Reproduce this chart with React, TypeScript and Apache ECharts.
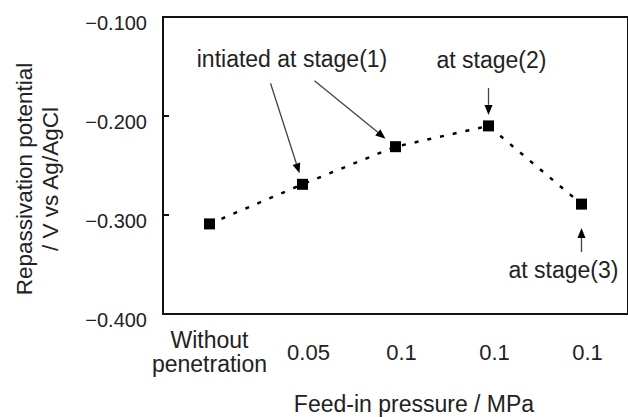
import React, { useEffect, useRef } from "react";
import * as echarts from "echarts";

const categories = ["Without\npenetration", "0.05", "0.1", "0.1", "0.1"];
const potentials = [-0.309, -0.269, -0.231, -0.21, -0.289];
const yMin = -0.4;
const yMax = -0.1;
const yInterval = 0.1;
const xAxisName = "Feed-in pressure / MPa";
const yAxisName = "Repassivation potential\n/ V vs Ag/AgCl";
const noteStage1 = "intiated at stage(1)";
const noteStage2 = "at stage(2)";
const noteStage3 = "at stage(3)";

const FONT = "'Liberation Sans', Arial, Helvetica, sans-serif";
const TEXT = "#222";

function arrow(x1: number, y1: number, x2: number, y2: number) {
  const dx = x2 - x1;
  const dy = y2 - y1;
  const len = Math.sqrt(dx * dx + dy * dy);
  const ux = dx / len;
  const uy = dy / len;
  const hl = 10;
  const hw = 4;
  const bx = x2 - ux * hl;
  const by = y2 - uy * hl;
  return [
    {
      type: "line",
      shape: { x1, y1, x2: bx, y2: by },
      style: { stroke: "#444", lineWidth: 1.3 },
      silent: true,
    },
    {
      type: "polygon",
      shape: {
        points: [
          [x2, y2],
          [bx - uy * hw, by + ux * hw],
          [bx + uy * hw, by - ux * hw],
        ],
      },
      style: { fill: "#000" },
      silent: true,
    },
  ];
}

export default function App() {
  const ref = useRef<HTMLDivElement>(null);
  useEffect(() => {
    const chart = echarts.init(ref.current!, null, { renderer: "svg" });
    chart.setOption({
      animation: false,
      grid: {
        left: 163,
        top: 17,
        width: 474,
        bottom: 103,
        show: true,
        borderColor: "#111",
        borderWidth: 2,
        backgroundColor: "transparent",
      },
      xAxis: {
        type: "category",
        data: categories,
        boundaryGap: true,
        axisLine: { lineStyle: { color: "#111", width: 2 } },
        axisTick: { inside: true, length: 6, interval: 0, lineStyle: { color: "#111", width: 2 } },
        axisLabel: {
          interval: 0,
          margin: 38,
          verticalAlign: "middle",
          lineHeight: 24,
          fontSize: 23,
          fontFamily: FONT,
          color: TEXT,
          formatter: (v: string) => (v.indexOf("\n") >= 0 ? v : "{n|" + v + "}"),
          rich: {
            n: { fontSize: 22, fontFamily: FONT, color: TEXT, padding: [0, 0, 0, 12] },
          },
        },
        splitLine: { show: false },
      },
      yAxis: {
        type: "value",
        min: yMin,
        max: yMax,
        interval: yInterval,
        axisLine: { show: true, lineStyle: { color: "#111", width: 2 } },
        axisTick: { show: true, inside: true, length: 6, lineStyle: { color: "#111", width: 2 } },
        axisLabel: {
          margin: 16,
          fontSize: 20,
          fontFamily: FONT,
          color: TEXT,
          verticalAlign: "top",
          lineHeight: 12,
          formatter: (v: number) => (v < 0 ? "\u2212" : "") + Math.abs(v).toFixed(3),
        },
        splitLine: { show: false },
      },
      series: [
        {
          type: "line",
          data: potentials,
          symbol: "rect",
          symbolSize: 11,
          itemStyle: { color: "#000" },
          lineStyle: { color: "#000", width: 2.5, type: [4, 9] },
        },
      ],
    });

    const p = potentials.map((v, i) => chart.convertToPixel({ gridIndex: 0 }, [i, v]) as number[]);
    const graphics: any[] = [
      ...arrow(p[1][0] - 32, p[1][1] - 101, p[1][0] - 3, p[1][1] - 11),
      ...arrow(p[2][0] - 81, p[2][1] - 66, p[2][0] - 10, p[2][1] - 8),
      ...arrow(p[3][0], p[3][1] - 38, p[3][0], p[3][1] - 11),
      ...arrow(p[4][0], p[4][1] + 48, p[4][0], p[4][1] + 24),
      {
        type: "text",
        x: (p[1][0] + p[2][0]) / 2 - 57,
        y: p[3][1] - 67,
        style: { text: noteStage1, fontSize: 23, fontFamily: FONT, fill: TEXT, align: "center", verticalAlign: "middle" },
      },
      {
        type: "text",
        x: p[3][0] + 3,
        y: p[3][1] - 66,
        style: { text: noteStage2, fontSize: 23, fontFamily: FONT, fill: TEXT, align: "center", verticalAlign: "middle" },
      },
      {
        type: "text",
        x: p[4][0] - 18,
        y: p[4][1] + 66,
        style: { text: noteStage3, fontSize: 23, fontFamily: FONT, fill: TEXT, align: "center", verticalAlign: "middle" },
      },
      {
        type: "text",
        x: 414,
        y: 404,
        style: { text: xAxisName, fontSize: 23, fontFamily: FONT, fill: TEXT, align: "center", verticalAlign: "middle" },
      },
      {
        type: "text",
        x: 37,
        y: 179,
        rotation: Math.PI / 2,
        style: {
          text: yAxisName,
          fontSize: 22.5,
          lineHeight: 26,
          fontFamily: FONT,
          fill: TEXT,
          align: "center",
          verticalAlign: "middle",
        },
      },
    ];
    chart.setOption({ graphic: graphics });
    return () => chart.dispose();
  }, []);
  return (
    <div
      ref={ref}
      style={{ position: "fixed", left: 0, top: 0, width: 628, height: 417, background: "#fff" }}
    />
  );
}
